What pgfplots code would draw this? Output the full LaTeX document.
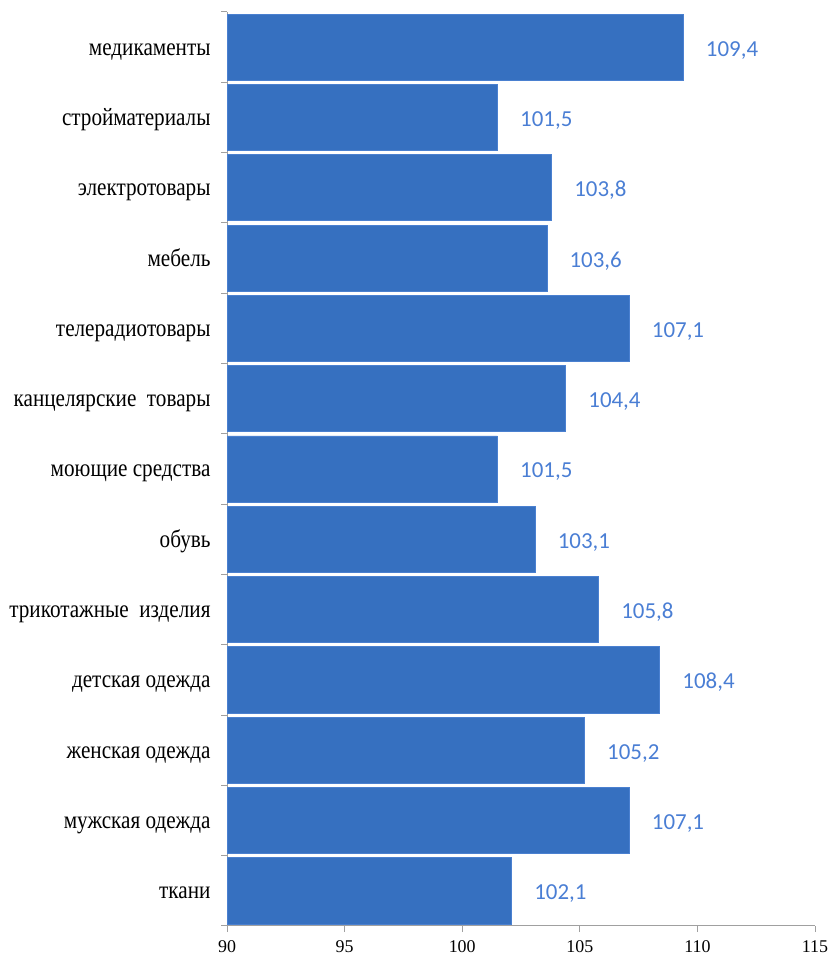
\documentclass[border=0pt]{standalone}
\usepackage{fontspec}
\setmainfont{Liberation Serif}
\newfontfamily\catfont[FakeStretch=0.85]{Liberation Serif}
\newfontfamily\calib{Carlito}
\usepackage{pgfplots}
\pgfplotsset{compat=1.18}
\definecolor{barblue}{HTML}{3670C0}
\definecolor{baredge}{HTML}{4A80D0}
\definecolor{lblblue}{HTML}{4A7ED4}
\definecolor{axgray}{HTML}{A0A0A0}
\begin{document}
\begin{tikzpicture}[x=1bp,y=1bp]
\begin{axis}[
  at={(227bp,31bp)}, anchor=south west,
  scale only axis, width=588bp, height=914bp,
  xbar, bar width=0.94,
  xmin=90, xmax=115, ymin=-0.5, ymax=12.5,
  xtick={90,95,...,115},
  ytick={0,...,12},
  yticklabels={ткани, мужская одежда, женская одежда, детская одежда, трикотажные\ \ изделия, обувь, моющие средства, канцелярские\ \ товары, телерадиотовары, мебель, электротовары, стройматериалы\ , медикаменты},
  minor ytick={-0.5,0.5,...,12.5},
  axis x line*=bottom, axis y line*=left,
  axis line style={axgray, line width=1bp, -},
  tick align=outside,
  major tick length=6bp, minor tick length=6bp,
  major y tick style={draw=none},
  minor y tick style={axgray, line width=1bp},
  major x tick style={axgray, line width=1bp},
  /pgf/number format/assume math mode=true,
  xticklabel style={font=\fontsize{18}{18}\selectfont, yshift=-5bp},
  yticklabel style={font=\catfont\fontsize{25}{25}\selectfont, anchor=base east, yshift=-8bp, xshift=-7bp},
  nodes near coords,
  nodes near coords style={anchor=base west, xshift=19bp, yshift=-9bp, font=\calib\fontsize{23}{23}\selectfont, text=lblblue,
    /pgf/number format/.cd, fixed, fixed zerofill, precision=1, use comma},
]
\addplot[draw=baredge, fill=barblue, line width=0.75bp] coordinates {
  (102.1,0) (107.1,1) (105.2,2) (108.4,3) (105.8,4) (103.1,5) (101.5,6)
  (104.4,7) (107.1,8) (103.6,9) (103.8,10) (101.5,11) (109.4,12)
};
\end{axis}
\pgfresetboundingbox
\path[use as bounding box] (0,0) rectangle (832,957);
\end{tikzpicture}
\end{document}
